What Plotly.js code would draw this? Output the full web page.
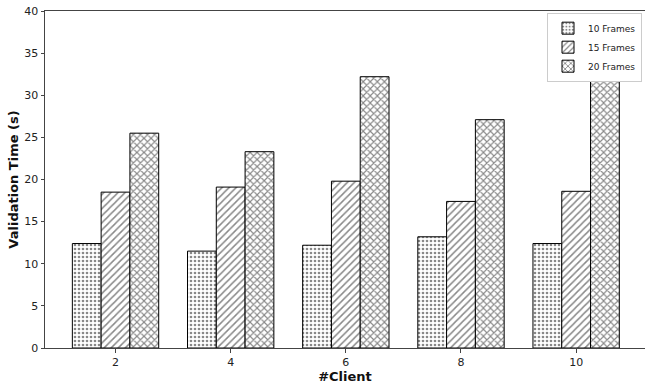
<!DOCTYPE html>
<html><head><meta charset="utf-8">
<script src="https://cdn.plot.ly/plotly-3.0.1.min.js"></script>
<style>html,body{margin:0;padding:0;background:#fff}#chart{width:645px;height:385px}</style>
</head><body><div id="chart"></div>
<script>
const clients = [2, 4, 6, 8, 10];
const seriesNames = ["10 Frames", "15 Frames", "20 Frames"];
const frames10 = [12.4, 11.5, 12.2, 13.2, 12.4];
const frames15 = [18.5, 19.1, 19.8, 17.4, 18.6];
const frames20 = [25.5, 23.3, 32.2, 27.1, 34.2];
const yTicks = [0, 5, 10, 15, 20, 25, 30, 35, 40];

const shapes = [".", "/", "x"];
const sizes = [4, 5, 5];
const sol = [0.35, 0.3, 0.4];
const values = [frames10, frames15, frames20];

const traces = values.map((v, i) => ({
  type: "bar",
  x: clients,
  y: v,
  name: seriesNames[i],
  marker: {
    color: "white",
    line: {color: "black", width: 1},
    pattern: {shape: shapes[i], fgcolor: "#111", bgcolor: "white", size: sizes[i], solidity: sol[i], fillmode: "overlay"}
  }
}));

const layout = {
  width: 645, height: 385,
  margin: {l: 45, r: 0, t: 11, b: 37},
  paper_bgcolor: "white", plot_bgcolor: "white",
  font: {family: "DejaVu Sans", color: "#222", size: 11},
  barmode: "group", bargap: 0.25, bargroupgap: 0,
  showlegend: true,
  legend: {x: 0.995, y: 0.995, xanchor: "right", yanchor: "top",
    bordercolor: "#cccccc", borderwidth: 1, bgcolor: "white",
    font: {size: 9, family: "DejaVu Sans", color: "#222"}, tracegroupgap: 0,
    itemwidth: 30},
  xaxis: {
    range: [0.775, 11.196], tickvals: clients, ticktext: clients.map(String),
    showgrid: false, zeroline: false, showline: true, linecolor: "#444", linewidth: 1, mirror: true,
    ticks: "outside", ticklen: 3.5, tickcolor: "#444", tickfont: {size: 11},
    title: {text: "<b>#Client</b>", font: {size: 13, family: "DejaVu Sans", color: "#111"}, standoff: 3}
  },
  yaxis: {
    range: [0, 40], tickvals: yTicks, showgrid: false, zeroline: false,
    showline: true, linecolor: "#444", linewidth: 1,
    ticks: "outside", ticklen: 3.5, tickcolor: "#444", tickfont: {size: 11},
    title: {text: "<b>Validation Time (s)</b>", font: {size: 13, family: "DejaVu Sans", color: "#111"}, standoff: 2}
  }
};
Plotly.newPlot("chart", traces, layout, {staticPlot: true, displayModeBar: false});
</script></body></html>
